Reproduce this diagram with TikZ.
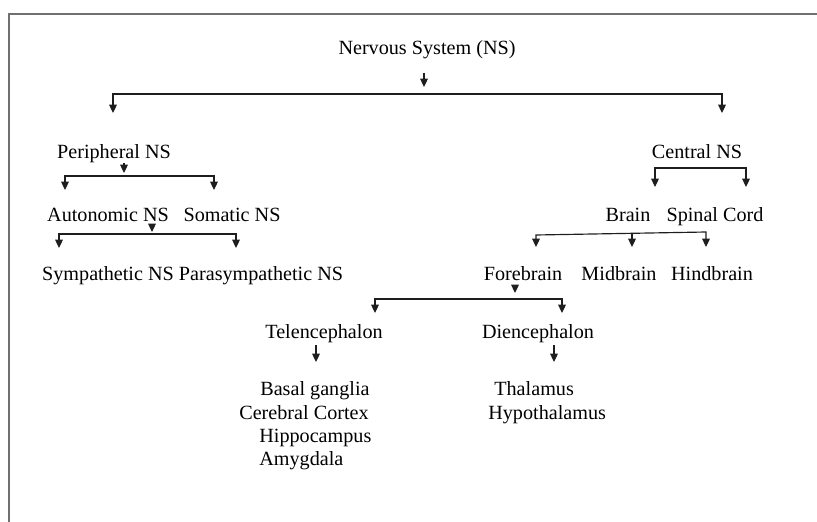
\documentclass[tikz,border=0pt]{standalone}
\usepackage{xcolor}
\usepackage{fontspec}
\setmainfont{Liberation Serif}
\definecolor{frame-gray}{HTML}{707070}
\definecolor{line-black}{HTML}{1E1E1E}
\usepackage{tikz}
\usetikzlibrary{arrows.meta}

\begin{document}
\begin{tikzpicture}[x=0.6pt, y=-0.6pt,
    term/.style={inner sep=0pt, anchor=base, font=\fontsize{12.1}{14}\selectfont},
    leaf/.style={term, anchor=base west},
    tip/.style={line-black, line width=0.7pt, -{Triangle[width=4.6pt,length=5pt]}},
    fork/.style={line-black, line width=0.7pt, {Triangle[width=4.6pt,length=5pt]}-{Triangle[width=4.6pt,length=5pt]}}]

    % Page
    \useasboundingbox (0,0) rectangle (817,522);
    \draw[frame-gray, line width=1pt] (817,14) -- (9,14) -- (9,522);

    % Terms
    \node[term] (ns) at (427,55) {Nervous System (NS)};
    \node[term] (pns) at (114,159) {Peripheral NS};
    \node[term] (cns) at (697,159) {Central NS};
    \node[term] (ans) at (108,222) {Autonomic NS};
    \node[term] (sns) at (232,222) {Somatic NS};
    \node[term] (brain) at (628,222) {Brain};
    \node[term] (spinal) at (715,222) {Spinal Cord};
    \node[term] (symp) at (108,280) {Sympathetic NS};
    \node[term] (para) at (261,280) {Parasympathetic NS};
    \node[term] (fore) at (523,280) {Forebrain};
    \node[term] (mid) at (619,280) {Midbrain};
    \node[term] (hind) at (712,280) {Hindbrain};
    \node[term] (tel) at (324,338) {Telencephalon};
    \node[term] (di) at (538,338) {Diencephalon};

    % Structures
    \node[leaf] (basal) at (260,395) {Basal ganglia};
    \node[leaf] (cortex) at (239,419) {Cerebral Cortex};
    \node[leaf] (hippo) at (259,442) {Hippocampus};
    \node[leaf] (amyg) at (259,465) {Amygdala};
    \node[leaf] (thal) at (494,395) {Thalamus};
    \node[leaf] (hypo) at (488,419) {Hypothalamus};

    % Nervous system split
    \coordinate (ns-a) at (424,73);
    \coordinate (ns-b) at (424,87);
    \draw[tip] (ns-a) -- (ns-b);
    \draw[fork] (113,113) -- (113,94) -- (722,94) -- (722,113);

    % Peripheral split
    \coordinate (pns-a) at (124,163);
    \coordinate (pns-b) at (124,173);
    \draw[tip] (pns-a) -- (pns-b);
    \draw[fork] (65,190) -- (65,176) -- (214,176) -- (214,190);

    % Autonomic split
    \coordinate (ans-a) at (152,225);
    \coordinate (ans-b) at (152,232);
    \draw[tip] (ans-a) -- (ans-b);
    \draw[fork] (59,248) -- (59,234) -- (236,234) -- (236,248);

    % Central split
    \draw[fork] (655,187) -- (655,168) -- (746,168) -- (746,187);

    % Brain split
    \coordinate (brain-m) at (632,233.3);
    \coordinate (brain-t) at (632,247);
    \draw[fork] (536,247) -- (536,235) -- (706,232) -- (706,247);
    \draw[tip] (brain-m) -- (brain-t);

    % Forebrain split
    \coordinate (fore-a) at (515,285);
    \coordinate (fore-b) at (515,293);
    \draw[tip] (fore-a) -- (fore-b);
    \draw[fork] (375,313) -- (375,299) -- (562,299) -- (562,313);

    % Down to structures
    \coordinate (tel-a) at (316,345);
    \coordinate (tel-b) at (316,362);
    \coordinate (di-a) at (554,345);
    \coordinate (di-b) at (554,362);
    \draw[tip] (tel-a) -- (tel-b);
    \draw[tip] (di-a) -- (di-b);

\end{tikzpicture}
\end{document}
